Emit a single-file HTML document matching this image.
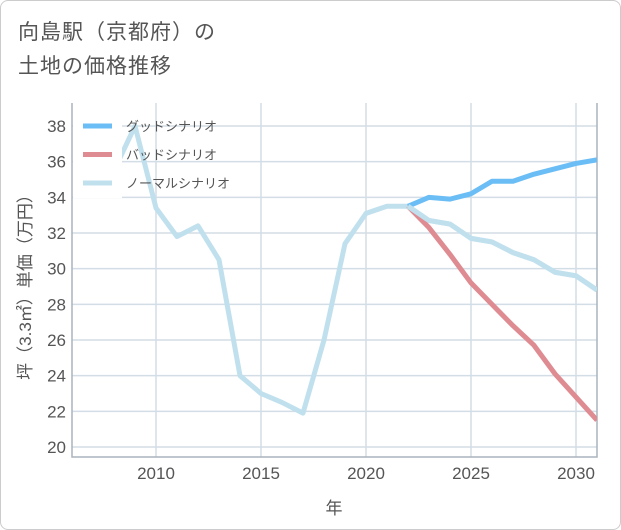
<!DOCTYPE html>
<html><head><meta charset="utf-8"><style>
body{margin:0;background:#fff;font-family:"Liberation Sans","Noto Sans CJK JP",sans-serif}
#card{position:absolute;left:0;top:0;width:619px;height:528px;border:1px solid #ccc;border-radius:8px;background:#fff}
#title{position:absolute;left:18px;top:16px;font-size:21px;line-height:34px;color:#555;letter-spacing:1px}
</style></head><body>
<div id="card"></div>
<div id="title">向島駅（京都府）の<br>土地の価格推移</div>
<svg id="chart" width="621" height="530" style="position:absolute;left:0;top:0"></svg>
<script>
const years=[2008,2009,2010,2011,2012,2013,2014,2015,2016,2017,2018,2019,2020,2021,2022,2023,2024,2025,2026,2027,2028,2029,2030,2031];
const normal=[35.5,38.0,33.4,31.8,32.4,30.5,24.0,23.0,22.5,21.9,26.0,31.4,33.1,33.5,33.5,32.7,32.5,31.7,31.5,30.9,30.5,29.8,29.6,28.8];
const goodYears=[2022,2023,2024,2025,2026,2027,2028,2029,2030,2031];
const good=[33.5,34.0,33.9,34.2,34.9,34.9,35.3,35.6,35.9,36.1];
const bad=[33.5,32.3,30.8,29.2,28.0,26.8,25.7,24.1,22.8,21.5];
const xTicks=[2010,2015,2020,2025,2030];
const yTicks=[20,22,24,26,28,30,32,34,36,38];
const L=72,R=597,T=103,B=457;
const x=v=>156+(v-2010)*21;
const y=v=>447-(v-20)*(321/18);
const svg=document.getElementById('chart');
const NS='http://www.w3.org/2000/svg';
function mk(t,a,p){const e=document.createElementNS(NS,t);for(const k in a)e.setAttribute(k,a[k]);(p||svg).appendChild(e);return e;}
const defs=mk('defs',{});const cp=mk('clipPath',{id:'c'},defs);mk('rect',{x:L,y:T,width:R-L,height:B-T},cp);
for(const v of yTicks){const g=mk('line',{x1:L,x2:R,y1:y(v),y2:y(v),stroke:'#d3dde6','stroke-width':1.5});


const t=mk('text',{x:L-6,y:y(v)+6,'text-anchor':'end','font-size':17,fill:'#555'});t.textContent=v;

}
for(const v of xTicks){const g=mk('line',{x1:x(v),x2:x(v),y1:T,y2:B,stroke:'#d3dde6','stroke-width':1.5});


const t=mk('text',{x:x(v),y:B+22,'text-anchor':'middle','font-size':17,fill:'#555'});t.textContent=v;

}
const ax=mk('path',{d:`M${L},${T}V${B}H${R}V${T}`,fill:'none',stroke:'#aab4bd','stroke-width':1.5});


function line(xs,vs,c,name){const d=vs.map((v,i)=>(i?'L':'M')+x(xs[i])+','+y(v)).join('');
const p=mk('path',{d,fill:'none',stroke:c,'stroke-width':5,'stroke-linejoin':'round','clip-path':'url(#c)'});

}
line(years,normal,'#c1e0ee','normal-scenario-line');
line(goodYears,bad,'#de8b92','bad-scenario-line');
line(goodYears,good,'#6bbdf5','good-scenario-line');
line(years.slice(14),normal.slice(14),'#c1e0ee','normal-scenario-line-front');
mk('rect',{x:L+1,y:T+1,width:49,height:94,fill:'#fff'});
const leg=[['グッドシナリオ','#6bbdf5'],['バッドシナリオ','#de8b92'],['ノーマルシナリオ','#c1e0ee']];
leg.forEach((l,i)=>{const yy=126+i*28.5;
const s=mk('line',{x1:83,x2:112,y1:yy,y2:yy,stroke:l[1],'stroke-width':5});


const t=mk('text',{x:126,y:yy+5,'font-size':13,fill:'#555'});t.textContent=l[0];

});
const xt=mk('text',{x:334,y:514,'text-anchor':'middle','font-size':17,fill:'#555'});xt.textContent='年';


const yt=mk('text',{x:0,y:0,'text-anchor':'middle','font-size':17,fill:'#555',transform:'translate(31,283) rotate(-90)'});yt.textContent='坪（3.3㎡）単価（万円）';


</script>
</body></html>
